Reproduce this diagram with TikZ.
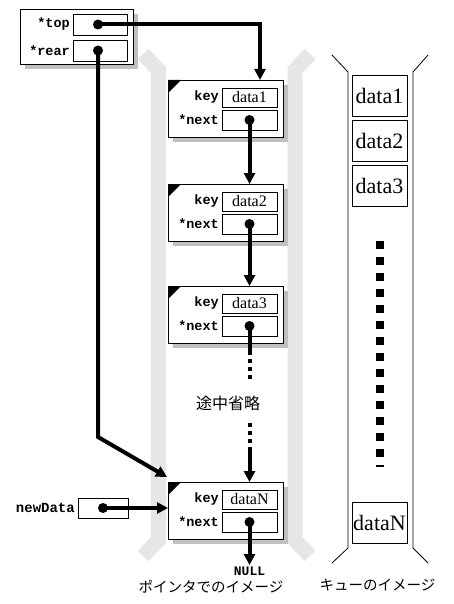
\documentclass[tikz,border=0pt]{standalone}
\usepackage{fontspec}
\setmainfont{Liberation Serif}
\setmonofont{Liberation Mono}
\newfontfamily\jpfont{Noto Sans CJK JP}
\usetikzlibrary{arrows.meta,positioning,shadows}
\definecolor{bandgray}{RGB}{230,230,230}
\definecolor{shadowgray}{RGB}{192,192,192}
\tikzset{
  cellbox/.style={draw, fill=white, line width=0.8pt, inner sep=0pt, outer sep=0pt, anchor=north west,
    drop shadow={shadow xshift=5pt, shadow yshift=-5pt, fill=shadowgray, opacity=1}},
  field/.style={draw, fill=white, line width=0.8pt, inner sep=0pt, outer sep=0pt,
    minimum width=55pt, minimum height=20pt, font=\fontsize{16}{17}\selectfont},
  lbl/.style={inner sep=0pt, font=\ttfamily\bfseries\fontsize{13.5}{16}\selectfont},
  ptrdot/.style={circle, fill, inner sep=0pt, minimum size=10pt},
  wire/.style={line width=4pt},
  link/.style={wire, -{Triangle[width=11pt,length=11pt]}},
  qitem/.style={draw, line width=0.8pt, minimum width=55pt, minimum height=41pt, inner sep=0pt,
    font=\fontsize{22}{24}\selectfont},
  jptxt/.style={font=\jpfont\fontsize{14.5}{18}\selectfont},
}
\begin{document}
\begin{tikzpicture}[x=1pt, y=-1pt]
\useasboundingbox (0,0) rectangle (453,604);
\draw[bandgray, line width=15pt] (143,54) -- (158.5,70) -- (158.5,540) -- (143,556);
\draw[bandgray, line width=15pt] (310,54) -- (295,70) -- (295,540) -- (310,556);

\node[cellbox, minimum width=113pt, minimum height=55pt] (head) at (20,9) {};
\node[field, minimum width=54pt, minimum height=21pt] (top) at (100,24.5) {};
\node[field, minimum width=54pt, minimum height=21pt] (rear) at (100,50.5) {};
\node[lbl, left=3pt of top] (toplbl) {*top};
\node[lbl, left=3pt of rear] (rearlbl) {*rear};
\node[ptrdot] (topdot) at (98,24.5) {};
\node[ptrdot] (reardot) at (98,50.5) {};

\foreach \i/\y/\t in {1/80/data1, 2/184/data2, 3/286/data3, N/482/dataN}{
  \node[cellbox, minimum width=115pt, minimum height=57pt] (box\i) at (168,\y) {};
  \fill (box\i.north west) -- ++(13,0) -- ++(-13,13) -- cycle;
  \node[field, minimum height=19pt] (key\i) at (249.5,\y+17.5) {\t};
  \node[field] (next\i) at (249.5,\y+40) {};
  \node[lbl, left=3pt of key\i] (keylbl\i) {key};
  \node[lbl, left=3pt of next\i] (nextlbl\i) {*next};
  \node[ptrdot] (dot\i) at (next\i.center) {};
}

\coordinate (turn) at (260,24.5);
\draw[link] (topdot.center) -- (turn) -- (box1.north -| turn);
\draw[link] (dot1.center) -- (box2.north -| dot1.center);
\draw[link] (dot2.center) -- (box3.north -| dot2.center);

\coordinate (cut1) at (249.5,351);
\coordinate (cut2) at (249.5,379);
\node[jptxt, font=\jpfont\fontsize{16}{18}\selectfont] (omit) at (228,403) {途中省略};
\coordinate (cut3) at (249.5,423);
\coordinate (cut4) at (249.5,447);
\draw[wire] (dot3.center) -- (cut1);
\draw[wire, dash pattern=on 4pt off 4pt] (cut1) -- (cut2);
\draw[wire, dash pattern=on 4pt off 4pt] (cut3) -- (cut4);
\draw[link] (cut4) -- (boxN.north -| cut4);

\coordinate (bend) at (98,437);
\draw[link] (reardot.center) -- (bend) -- ([shift={(-1,-5)}]boxN.north west);

\node[field, minimum width=50pt, minimum height=20pt] (newdata) at (103,508) {};
\node[lbl, left=3pt of newdata, font=\ttfamily\bfseries\fontsize{14}{16}\selectfont] (newlbl) {newData};
\node[ptrdot] (newdot) at (newdata.center) {};
\draw[link] (newdot.center) -- (newdot.center -| boxN.west);

\node[lbl, anchor=north, inner sep=2pt, font=\ttfamily\bfseries\fontsize{13}{15}\selectfont] (null) at (249.5,565) {NULL};
\draw[link] (dotN.center) -- (null.north);

\node[jptxt] (ptrcap) at (211,587) {ポインタでのイメージ};
\node[jptxt] (quecap) at (377.5,585) {キューのイメージ};

\draw[line width=0.8pt] (332,55) -- (348,72) -- (348,548) -- (332,563);
\draw[line width=0.8pt] (428,55) -- (413,72) -- (413,548) -- (428,563);
\node[qitem] (q1) at (379.5,95.5) {data1};
\node[qitem] (q2) at (379.5,140.5) {data2};
\node[qitem] (q3) at (379.5,186) {data3};
\node[qitem] (qN) at (379.5,523) {dataN};
\draw[line width=8pt, dash pattern=on 8pt off 8pt] (380,241) -- (380,467);

\end{tikzpicture}
\end{document}
